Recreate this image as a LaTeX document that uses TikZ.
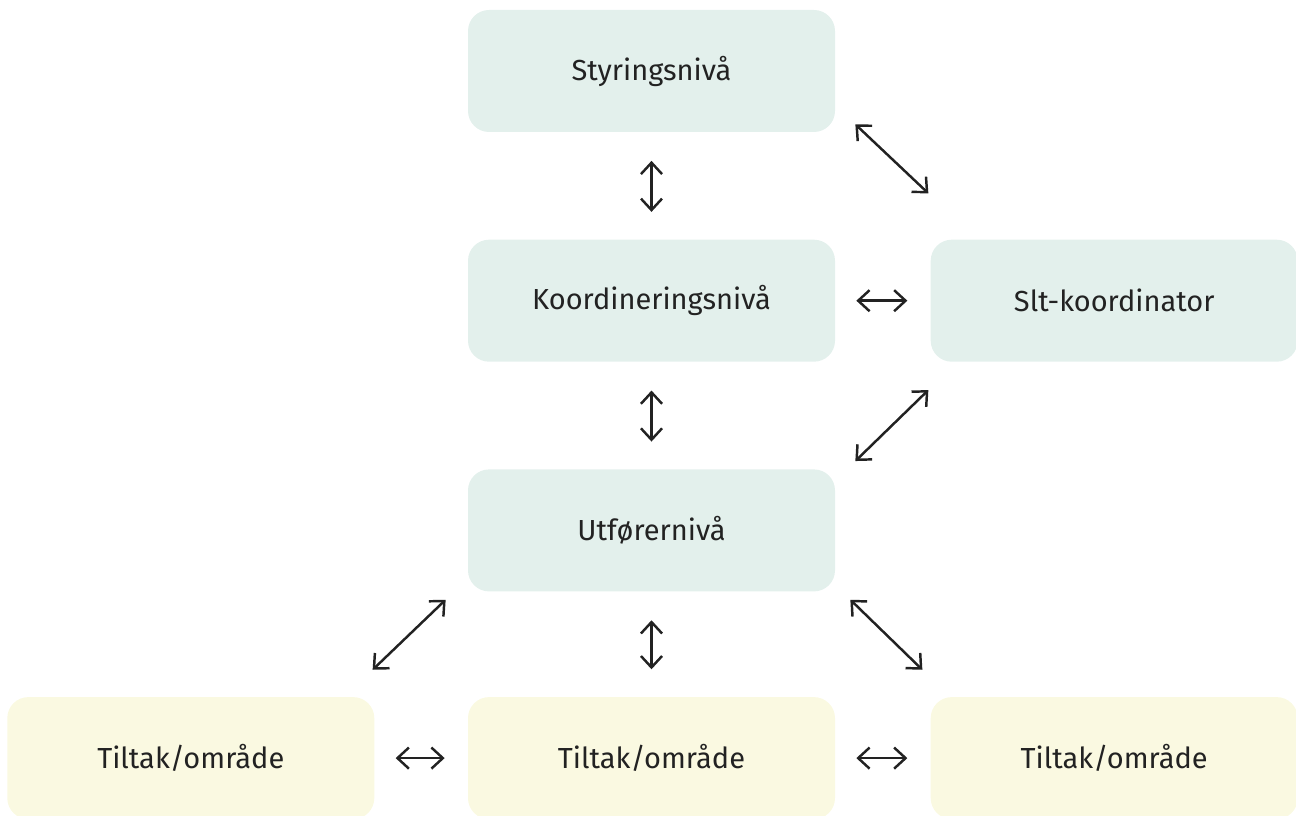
\documentclass[tikz,border=0pt]{standalone}
\usepackage{fontspec}
\setmainfont{Fira Sans}
\usepackage{xcolor}
\usepackage{tikz}
\usetikzlibrary{positioning}
\usetikzlibrary{calc}
\usetikzlibrary{arrows.meta}

\definecolor{levelgreen}{HTML}{E3F0EC}
\definecolor{areayellow}{HTML}{FAF9E1}
\definecolor{inkgrey}{HTML}{222222}

\begin{document}
\begin{tikzpicture}[
  level/.style={rectangle, fill=levelgreen, rounded corners=0.42cm, minimum width=7.34cm, minimum height=2.44cm, text=inkgrey, font=\fontsize{16.5}{20}\selectfont},
  area/.style={level, fill=areayellow},
  link/.style={{Straight Barb[length=6.5pt,width=12pt]}-{Straight Barb[length=6.5pt,width=12pt]}, line width=1.4pt, draw=inkgrey},
  vlink/.style={link, shorten <=0.57cm, shorten >=0.55cm},
  hlink/.style={link, shorten <=0.42cm, shorten >=0.46cm}]
\useasboundingbox (0,0) rectangle (25.92,-16.32);
\node[level] (styr) at (13.03,-1.42) {Styringsnivå};
\node[level,below=2.14cm of styr] (koord) {Koordineringsnivå};
\node[level,right=1.9cm of koord] (slt) {Slt-koordinator};
\node[level,below=2.14cm of koord] (utf) {Utførernivå};
\node[area,below=2.1cm of utf] (tiltakmid) {Tiltak/område};
\node[area,left=1.86cm of tiltakmid] (tiltakleft) {Tiltak/område};
\node[area,right=1.9cm of tiltakmid] (tiltakright) {Tiltak/område};
% vertical and horizontal links
\draw[vlink] (styr) -- (koord);
\draw[vlink] (koord) -- (utf);
\draw[vlink] (utf) -- (tiltakmid);
\draw[hlink] (koord) -- (slt);
\draw[hlink] (tiltakleft) -- (tiltakmid);
\draw[hlink] (tiltakmid) -- (tiltakright);
% diagonal links
\draw[link] ($(styr.south east)+(0.4,0.16)$) -- ($(slt.north west)+(-0.04,0.92)$);
\draw[link] ($(slt.south west)+(-0.04,-0.56)$) -- ($(utf.north east)+(0.4,0.16)$);
\draw[link] ($(utf.south west)+(-0.44,-0.16)$) -- ($(tiltakleft.north east)+(-0.04,0.54)$);
\draw[link] ($(utf.south east)+(0.3,-0.16)$) -- ($(tiltakright.north west)+(-0.16,0.54)$);
\end{tikzpicture}
\end{document}
